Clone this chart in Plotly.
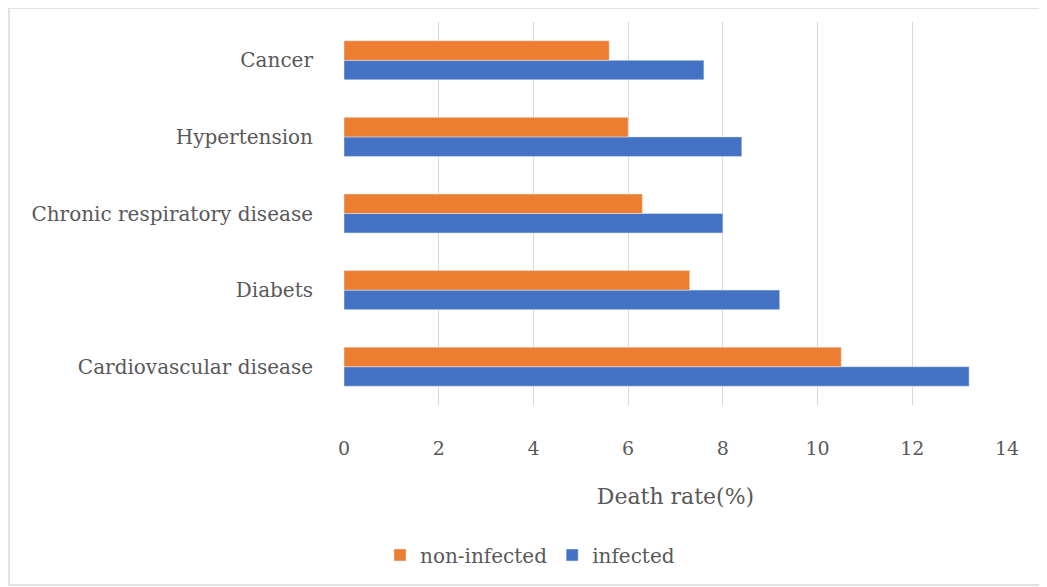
import plotly.graph_objects as go

categories = ["Cardiovascular disease", "Diabets", "Chronic respiratory disease", "Hypertension", "Cancer"]
infected = [13.2, 9.2, 8.0, 8.4, 7.6]
non_infected = [10.5, 7.3, 6.3, 6.0, 5.6]
x_ticks = [0, 2, 4, 6, 8, 10, 12, 14]

font_family = "DejaVu Serif"
text_color = "#595959"

fig = go.Figure()
fig.add_trace(go.Bar(y=categories, x=infected, orientation="h", name="infected",
                     marker=dict(color="#4472C4")))
fig.add_trace(go.Bar(y=categories, x=non_infected, orientation="h", name="non-infected",
                     marker=dict(color="#ED7D31")))

OFF = 8  # page body margin
W, H = 1047, 587
L, T = 344 - OFF, 22 - OFF
R = W - (1007 - OFF)
B = H - (405 - OFF)
pw, ph = W - L - R, H - T - B

def px(x):
    return (x - OFF - L) / pw

def py(y):
    return 1 - (y - OFF - T) / ph

fig.update_layout(
    width=W, height=H,
    margin=dict(l=L, r=R, t=T, b=B),
    paper_bgcolor="white", plot_bgcolor="white",
    barmode="group", bargap=0.49, bargroupgap=0,
    font=dict(family=font_family, size=20, color=text_color),
    legend=dict(orientation="h", traceorder="reversed", x=px(530), xanchor="center",
                y=py(555), yanchor="middle", font=dict(size=20, color=text_color),
                itemwidth=30, tracegroupgap=0),
    xaxis=dict(range=[0, 14], tickvals=x_ticks, showgrid=True, gridcolor="#D9D9D9",
               gridwidth=1, zeroline=False, showline=False, ticks="",
               ticklabelstandoff=30, tickfont=dict(size=19, color=text_color),
               title=dict(text="Death rate(%)", font=dict(size=22, color=text_color), standoff=30)),
    yaxis=dict(showgrid=False, zeroline=False, showline=False, ticks="",
               ticklabelstandoff=30, tickfont=dict(size=20, color=text_color)),
    shapes=[dict(type="rect", xref="paper", yref="paper",
                 x0=px(9), x1=px(1044), y0=py(585), y1=py(8),
                 line=dict(color="#D9D9D9", width=1.5), fillcolor="rgba(0,0,0,0)", layer="below")],
)

fig.write_html("out.html")
